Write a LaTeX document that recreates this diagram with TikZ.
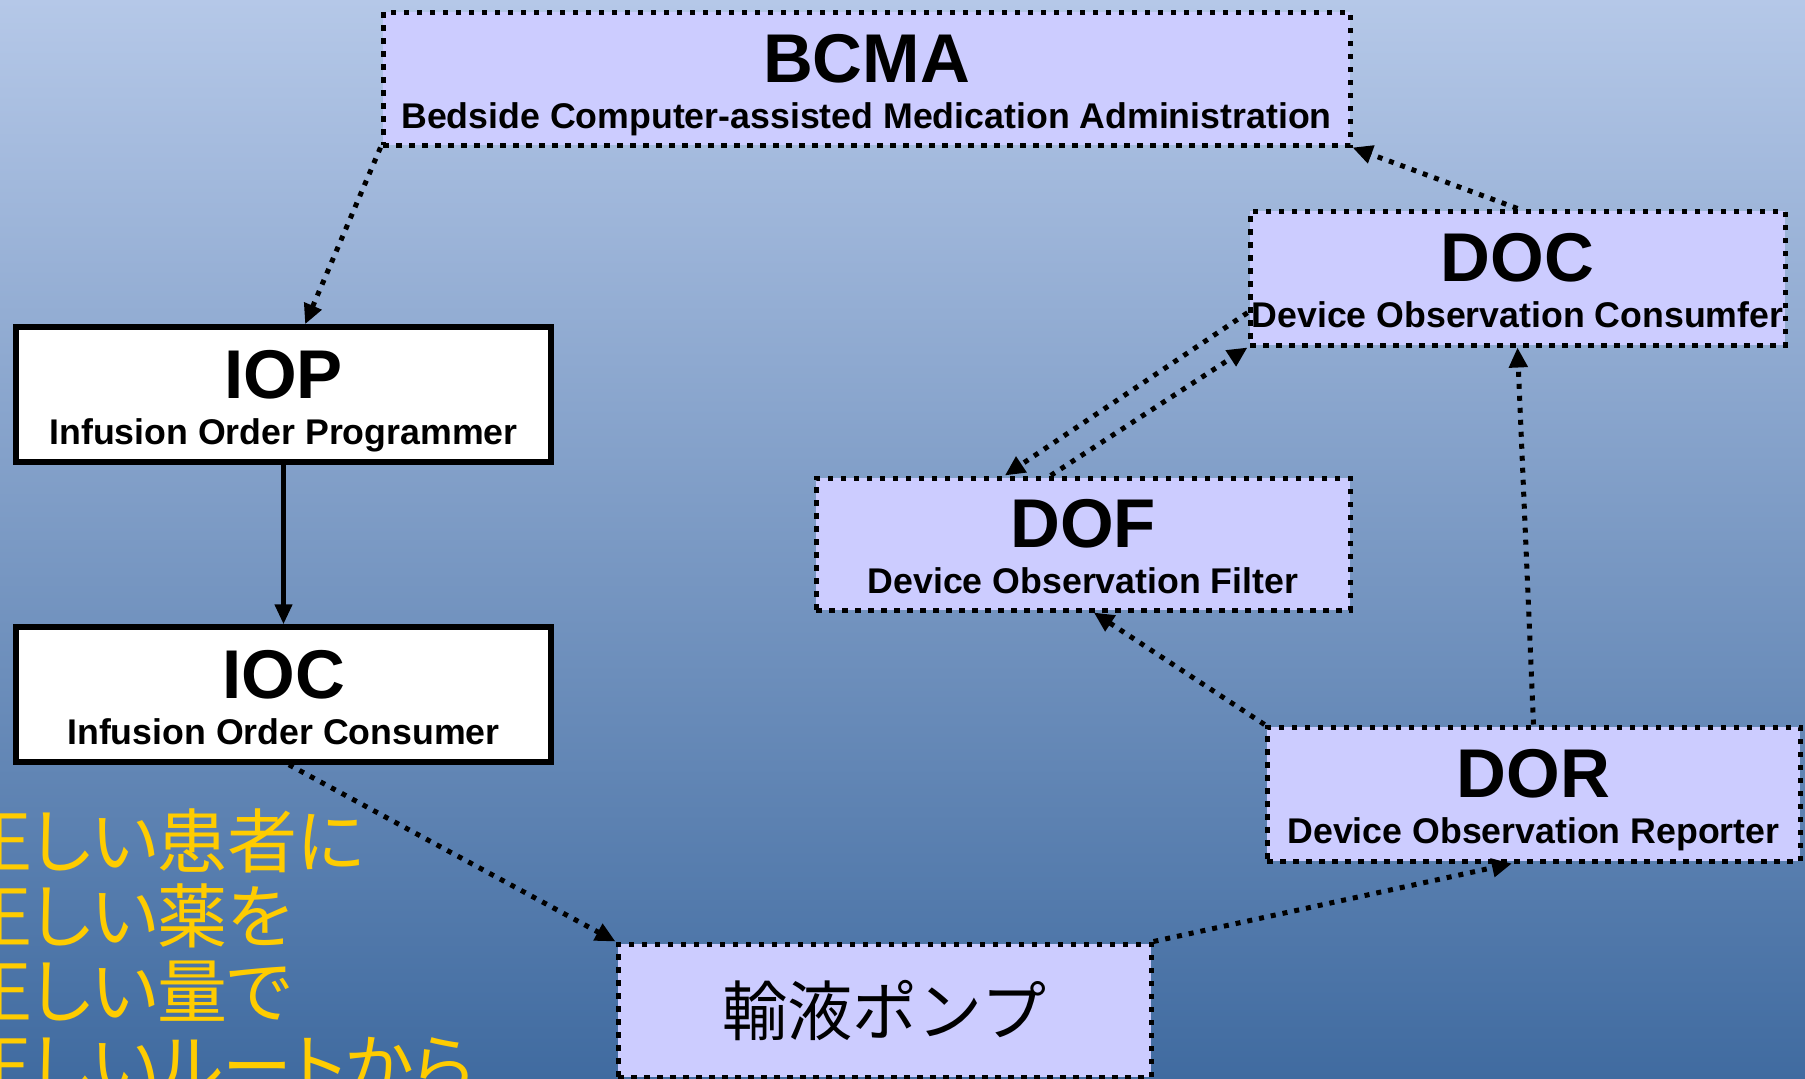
\documentclass[tikz,border=0pt]{standalone}
\usepackage{fontspec}
\setmainfont{Liberation Sans}
\newfontfamily\jpfont{Noto Sans CJK JP}
\newfontfamily\jppfont[RawFeature=+palt]{Noto Sans CJK JP}
\usetikzlibrary{arrows.meta,calc}
\definecolor{bgtop}{RGB}{181,200,232}
\definecolor{bgmid}{RGB}{139,164,205}
\definecolor{bgbot}{RGB}{64,107,160}
\definecolor{boxfill}{RGB}{204,204,255}
\definecolor{yel}{RGB}{255,204,0}
\begin{document}
\begin{tikzpicture}[x=1pt,y=-1pt,
  dotbox/.style={draw=black,fill=boxfill,line width=5pt,dash pattern=on 5.5pt off 7.5pt,rectangle,inner sep=0pt,outer sep=2.5pt},
  solidbox/.style={draw=black,fill=white,line width=5.5pt,rectangle,inner sep=0pt,outer sep=2.75pt},
  ttl/.style={anchor=base,inner sep=0pt,font=\bfseries\fontsize{69}{69}\selectfont},
  subttl/.style={anchor=base,inner sep=0pt,font=\bfseries\fontsize{35.7}{36}\selectfont},
  dotarrow/.style={line width=5pt,dash pattern=on 5pt off 7pt,-{Triangle[length=20pt,width=18pt]}},
  solidarrow/.style={line width=4.5pt,-{Triangle[length=20pt,width=17pt]}},
  jtext/.style={anchor=base west,inner sep=0pt,text=yel,font=\jppfont\fontsize{70}{75}\selectfont}
]
\useasboundingbox (0,0) rectangle (1805,1079);
\clip (0,0) rectangle (1805,1079);
\shade[top color=bgtop,middle color=bgmid,bottom color=bgbot] (0,0) rectangle (1805,1079);

% boxes
\node[dotbox,minimum width=967pt,minimum height=133pt] (bcma) at (866.5,78.5) {};
\node[ttl] (bcmaT) at ($(bcma.center)+(0,3.7)$) {BCMA};
\node[subttl] (bcmaS) at ($(bcma.center)+(0,49.8)$) {Bedside Computer-assisted Medication Administration};

\node[dotbox,minimum width=535pt,minimum height=134pt] (doc) at (1517.5,278) {};
\node[ttl] (docT) at ($(doc.center)+(0,3.7)$) {DOC};
\node[subttl] (docS) at ($(doc.center)+(0,49.8)$) {Device Observation Consumfer};

\node[solidbox,minimum width=535pt,minimum height=135pt] (iop) at (283.5,394.5) {};
\node[ttl] (iopT) at ($(iop.center)+(0,3.7)$) {IOP};
\node[subttl] (iopS) at ($(iop.center)+(0,49.8)$) {Infusion Order Programmer};

\node[solidbox,minimum width=535pt,minimum height=135pt] (ioc) at (283.5,694.5) {};
\node[ttl] (iocT) at ($(ioc.center)+(0,3.7)$) {IOC};
\node[subttl] (iocS) at ($(ioc.center)+(0,49.8)$) {Infusion Order Consumer};

\node[dotbox,minimum width=534pt,minimum height=132pt] (dof) at (1083,544) {};
\node[ttl] (dofT) at ($(dof.center)+(0,3.7)$) {DOF};
\node[subttl] (dofS) at ($(dof.center)+(0,49.8)$) {Device Observation Filter};

\node[dotbox,minimum width=533pt,minimum height=134pt] (dor) at (1533.5,794) {};
\node[ttl] (dorT) at ($(dor.center)+(0,3.7)$) {DOR};
\node[subttl] (dorS) at ($(dor.center)+(0,49.8)$) {Device Observation Reporter};

\node[dotbox,minimum width=533pt,minimum height=133pt,font=\jpfont\fontsize{65}{65}\selectfont] (pump) at (884.5,1010.5) {輸液ポンプ};

% yellow text
\node[jtext] (y1) at (-38,867) {正しい患者に};
\node[jtext] (y2) at (-38,942) {正しい薬を};
\node[jtext] (y3) at (-38,1017) {正しい量で};
\node[jtext] (y4) at (-38,1092) {正しいルートから};

% connectors
\draw[dotarrow] (bcma.south west) -- ($(iop.north west)!0.54!(iop.north east)$);
\draw[solidarrow] (iop.south) -- (ioc.north);
\draw[dotarrow] ($(ioc.south west)!0.51!(ioc.south east)$) -- (pump.north west);
\draw[dotarrow] (pump.north east) -- ($(dor.south west)!0.46!(dor.south east)$);
\draw[dotarrow] (dor.north west) -- ($(dof.south west)!0.52!(dof.south east)$);
\draw[dotarrow] (dor.north) -- (doc.south);
\draw[dotarrow] ($(dof.north west)!0.44!(dof.north east)$) -- (doc.south west);
\draw[dotarrow] ($(doc.north west)!0.75!(doc.south west)$) -- ($(dof.north west)!0.355!(dof.north east)$);
\draw[dotarrow] (doc.north) -- (bcma.south east);
\end{tikzpicture}
\end{document}
